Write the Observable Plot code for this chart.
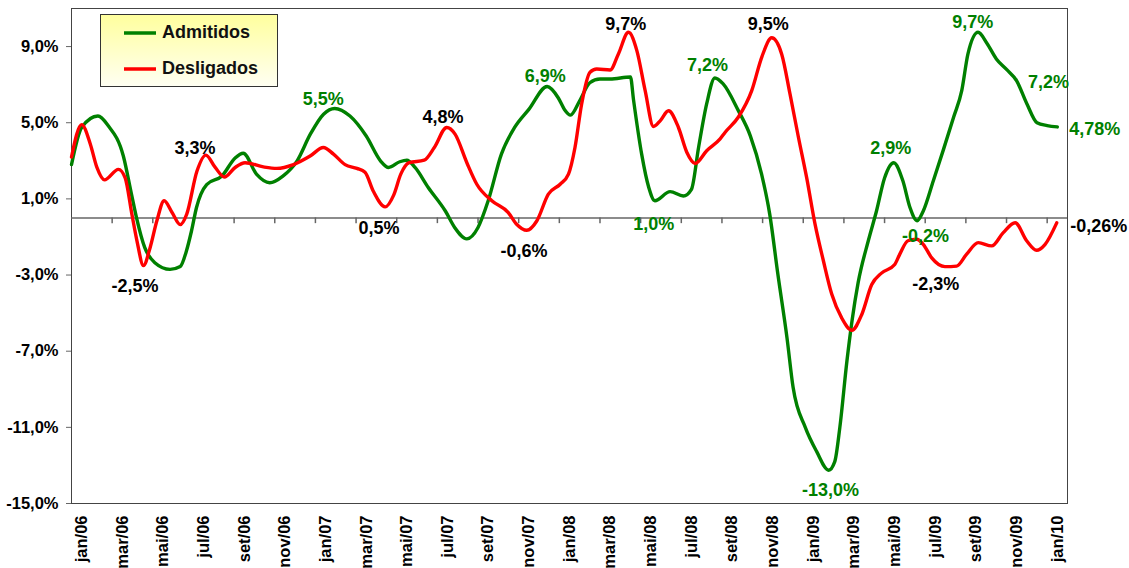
<!DOCTYPE html>
<html>
<head>
<meta charset="utf-8">
<script src="https://cdn.jsdelivr.net/npm/d3@7"></script>
<script src="https://cdn.jsdelivr.net/npm/@observablehq/plot@0.6"></script>
<style>
  html, body { margin: 0; padding: 0; background: #fff; }
  #wrap { position: relative; width: 1129px; height: 568px; font-family: "Liberation Sans", Arial, sans-serif; }
  #legend { position: absolute; left: 100px; top: 14px; width: 176px; height: 71px;
    border: 1px solid #333; background: linear-gradient(to bottom, #ffff9e, #fffff2);
    font-weight: bold; font-size: 18px; color: #111; }
  .li { position: absolute; left: 22px; display: flex; align-items: center; }
  .li svg { margin-right: 5px; }
</style>
</head>
<body>
<div id="wrap"><div id="chart"></div>
  <div id="legend"></div>
</div>
<script>
// Month index: 0 = jan/06 ... 48 = jan/10 (fractional positions = within-month readings)
const admMonth = [-0.5,0.0,0.8,1.3,2.05,2.45,2.7,3.1,3.6,4.35,4.85,5.15,5.4,5.65,6.15,6.9,7.55,7.95,8.6,9.25,9.9,10.6,11.25,11.9,12.45,13.2,14.0,14.7,15.1,15.65,16.0,16.4,17.05,17.9,18.35,18.95,19.5,20.0,20.65,21.3,22.0,22.9,23.45,23.75,24.05,24.5,25.0,25.5,26.0,27.0,27.15,27.55,27.9,28.2,28.95,29.6,30.0,30.35,30.75,31.15,31.55,32.3,32.9,33.45,33.85,34.25,34.7,35.0,35.6,36.15,36.75,37.05,37.3,37.65,37.9,38.2,38.7,39.1,39.5,39.95,40.4,40.75,41.1,41.4,41.9,42.4,42.9,43.3,43.6,44.1,44.55,45.0,45.5,46.0,46.5,47.0,47.5,48.0];
const admValue = [2.8,4.75,5.35,4.85,3.25,1.25,0.0,-1.55,-2.35,-2.7,-2.55,-1.75,-0.7,0.55,1.75,2.2,3.15,3.4,2.3,1.85,2.2,3.0,4.4,5.45,5.75,5.35,4.3,3.0,2.65,2.95,3.03,2.65,1.6,0.35,-0.5,-1.1,-0.5,0.9,3.35,4.75,5.7,6.9,6.3,5.7,5.4,6.15,7.1,7.3,7.3,7.4,6.2,3.35,1.6,0.9,1.38,1.15,1.5,3.7,6.0,7.35,7.05,5.65,4.3,2.3,0.2,-2.95,-6.3,-8.9,-11.0,-12.25,-13.25,-12.8,-11.0,-7.5,-5.4,-3.4,-1.2,0.35,2.1,2.9,1.95,0.55,-0.15,0.35,1.95,3.6,5.3,6.7,8.6,9.75,9.15,8.35,7.8,7.2,6.0,5.0,4.85,4.78];

const desMonth = [-0.5,0.0,0.42,0.75,1.12,1.81,2.14,2.47,2.72,3.04,3.37,3.7,4.06,4.44,4.85,5.17,5.67,6.11,6.57,7.02,7.55,8.04,8.94,9.6,10.42,11.24,11.89,12.39,12.96,13.54,13.94,14.35,14.93,15.35,15.7,16.11,16.85,17.35,17.96,18.37,18.95,19.44,20.18,20.99,21.4,21.9,22.39,22.96,23.54,23.95,24.27,24.6,25.01,25.34,26.0,26.4,26.9,27.31,27.72,28.13,28.46,28.87,29.36,29.77,30.18,30.75,31.41,31.66,32.31,32.97,33.46,33.95,34.44,34.85,35.26,35.67,36.08,36.49,36.9,37.39,37.89,38.38,38.87,39.35,40.0,40.25,40.65,41.08,41.41,41.82,42.47,43.05,43.54,44.11,44.77,45.34,45.92,46.49,46.98,47.39,47.97];
const desValue = [3.2,4.9,3.9,2.65,2.0,2.55,2.1,0.2,-1.2,-2.5,-1.55,-0.15,0.9,0.3,-0.35,0.2,2.45,3.3,2.65,2.15,2.65,2.9,2.68,2.6,2.8,3.25,3.7,3.35,2.8,2.6,2.4,1.4,0.58,1.2,2.3,2.9,3.03,3.7,4.75,4.4,2.9,1.77,0.9,0.28,-0.33,-0.65,-0.16,1.25,1.77,2.3,3.7,6.0,7.65,7.82,7.77,8.6,9.75,8.8,6.7,4.8,5.1,5.63,4.75,3.45,2.86,3.53,4.15,4.5,5.3,6.7,8.45,9.46,8.6,6.5,4.25,2.1,-0.33,-2.25,-4.0,-5.25,-5.9,-5.07,-3.5,-2.9,-2.45,-1.9,-1.2,-1.12,-1.4,-2.1,-2.56,-2.53,-1.9,-1.3,-1.47,-0.77,-0.25,-1.2,-1.7,-1.4,-0.26];

const xLabels = ["jan/06","mar/06","mai/06","jul/06","set/06","nov/06","jan/07","mar/07","mai/07","jul/07","set/07","nov/07","jan/08","mar/08","mai/08","jul/08","set/08","nov/08","jan/09","mar/09","mai/09","jul/09","set/09","nov/09","jan/10"];
const yTicks = [-15,-11,-7,-3,1,5,9];

const seriesNames = ["Admitidos","Desligados"];
const seriesColors = ["#008000","#ff0000"];

// Annotations (text, month position, value, series: green or black)
const annText  = ["-2,5%","3,3%","5,5%","0,5%","4,8%","6,9%","-0,6%","9,7%","1,0%","7,2%","9,5%","-13,0%","2,9%","-0,2%","-2,3%","9,7%","7,2%","4,78%","-0,26%"];
const annMonth = [2.62,5.58,11.88,14.63,17.78,22.81,21.76,26.77,28.15,30.79,33.78,36.84,39.81,41.51,42.02,43.84,47.57,49.84,50.04];
const annValue = [-3.58,3.68,6.26,-0.53,5.28,7.42,-1.74,10.19,-0.33,8.0,10.16,-14.28,3.65,-0.95,-3.49,10.28,7.12,4.67,-0.42];
const annGreen = [false,false,true,false,false,true,false,false,true,true,false,true,true,true,false,true,true,true,false];

const adm = admMonth.map((m, i) => ({m, v: admValue[i]}));
const des = desMonth.map((m, i) => ({m, v: desValue[i]}));
const ann = annText.map((t, i) => ({t, m: annMonth[i], v: annValue[i], c: annGreen[i] ? seriesColors[0] : "#000"}));
const tickMonths = xLabels.map((_, i) => i * 2);
const boundaryTicks = d3.range(1.5, 48, 2);

const fmtY = d => d.toFixed(1).replace(".", ",") + "%";

const chart = Plot.plot({
  width: 1129,
  height: 568,
  marginLeft: 71,
  marginRight: 62,
  marginTop: 8,
  marginBottom: 65,
  style: {fontFamily: "'Liberation Sans', Arial, sans-serif", fontWeight: "bold", color: "#000", background: "transparent"},
  x: {type: "linear", domain: [-0.5, 48.5]},
  y: {domain: [-15, 11]},
  marks: [
    Plot.frame({stroke: "#444", strokeWidth: 1}),
    Plot.ruleY([0], {stroke: "#666", strokeWidth: 1.5}),
    Plot.ruleX(boundaryTicks, {x: d => d, y1: 0, y2: -0.3, stroke: "#666", strokeWidth: 1.5}),
    Plot.axisY({ticks: yTicks, tickFormat: fmtY, tickSize: 5, tickPadding: 8, fontSize: 16.5, fontWeight: "bold", label: null, stroke: "#666"}),
    Plot.axisX({ticks: tickMonths, tickFormat: d => xLabels[d / 2], tickRotate: -90, tickSize: 0, tickPadding: 12, fontSize: 16.5, fontWeight: "bold", label: null}),
    Plot.line(adm, {x: "m", y: "v", stroke: seriesColors[0], strokeWidth: 3.4, curve: "monotone-x"}),
    Plot.line(des, {x: "m", y: "v", stroke: seriesColors[1], strokeWidth: 3.4, curve: "monotone-x"}),
    Plot.text(ann, {x: "m", y: "v", text: "t", fill: "c", fontSize: 18, fontWeight: "bold"})
  ]
});
document.getElementById("chart").appendChild(chart);

// Legend
const lg = document.getElementById("legend");
seriesNames.forEach((name, i) => {
  const row = document.createElement("div");
  row.className = "li";
  row.style.top = (i === 0 ? 7 : 43) + "px";
  row.innerHTML = `<svg width="34" height="20"><line x1="1" x2="33" y1="10" y2="10" stroke="${seriesColors[i]}" stroke-width="3.5"/></svg><span>${name}</span>`;
  lg.appendChild(row);
});
</script>
</body>
</html>
